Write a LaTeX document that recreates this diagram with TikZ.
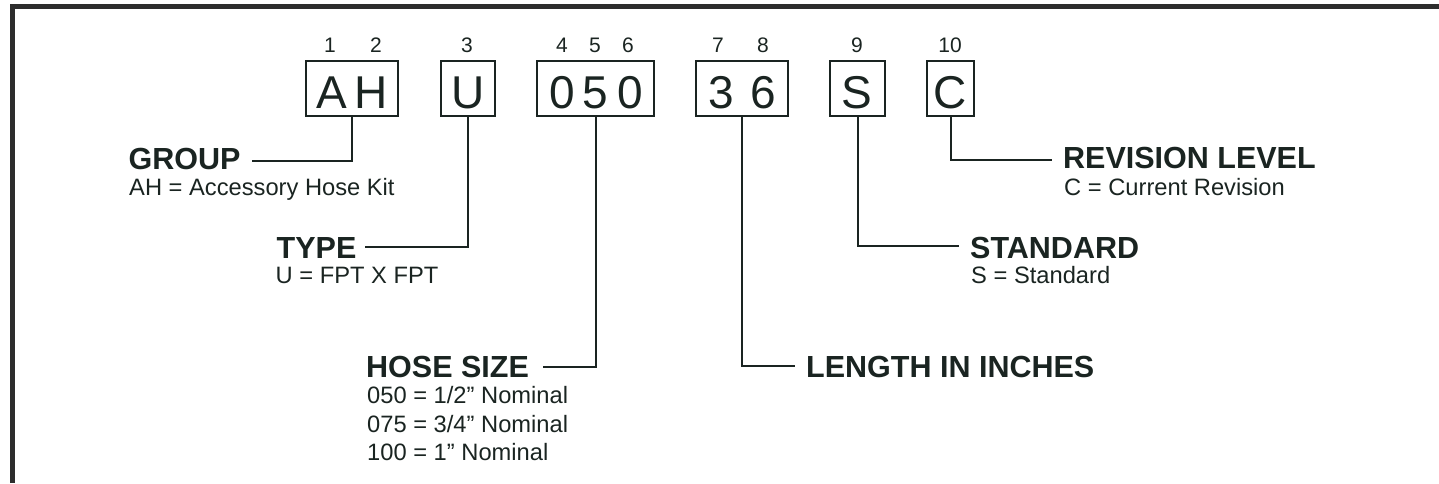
\documentclass[tikz,border=0pt]{standalone}
\usepackage{fontspec}
\setmainfont{Liberation Sans}
\definecolor{ink}{RGB}{26,36,33}
\definecolor{framecol}{RGB}{45,45,45}
\begin{document}
\begin{tikzpicture}[x=1pt,y=-1pt,
  digitbox/.style={draw=ink, line width=2pt, inner sep=0pt, minimum height=55pt},
  chr/.style={anchor=base, inner sep=0pt, text=ink, font=\fontsize{46}{46}\selectfont},
  posnum/.style={anchor=base, inner sep=0pt, text=ink, font=\fontsize{21}{21}\selectfont},
  ttl/.style={anchor=base west, inner sep=0pt, text=ink, font=\fontsize{30.5}{30.5}\selectfont\bfseries},
  sub/.style={anchor=base west, inner sep=0pt, text=ink, font=\fontsize{23.7}{23.7}\selectfont},
  conn/.style={draw=ink, line width=2pt}]
\useasboundingbox (0,0) rectangle (1439,483);
% frame (top and left edges)
\draw[framecol, line width=5pt] (12.5,483) -- (12.5,6.5) -- (1439,6.5);

% boxes
\node[digitbox, minimum width=92pt] (bAH) at (352,88.5) {};
\node[digitbox, minimum width=54pt] (bU) at (468,88.5) {};
\node[digitbox, minimum width=117pt] (bSize) at (595.5,88.5) {};
\node[digitbox, minimum width=92pt] (bLen) at (742,88.5) {};
\node[digitbox, minimum width=55pt] (bS) at (857.5,88.5) {};
\node[digitbox, minimum width=47pt] (bC) at (950.5,88.5) {};

% characters in boxes
\node[chr] (cA) at (332,108) {A};
\node[chr] (cH) at (371,108) {H};
\node[chr] (cU) at (468,108) {U};
\node[chr] (c4) at (562,108) {0};
\node[chr] (c5) at (595,108) {5};
\node[chr] (c6) at (630,108) {0};
\node[chr] (c7) at (721,108) {3};
\node[chr] (c8) at (763,108) {6};
\node[chr] (cS) at (857,108) {S};
\node[chr] (cC) at (950,108) {C};

% position numbers
\node[posnum] (p1) at (330,52) {1};
\node[posnum] (p2) at (376,52) {2};
\node[posnum] (p3) at (467,52) {3};
\node[posnum] (p4) at (562,52) {4};
\node[posnum] (p5) at (595,52) {5};
\node[posnum] (p6) at (628,52) {6};
\node[posnum] (p7) at (718,52) {7};
\node[posnum] (p8) at (763,52) {8};
\node[posnum] (p9) at (857,52) {9};
\node[posnum] (p10) at (950,52) {10};

% labels
\node[ttl] (tGroup) at (128.5,169) {GROUP};
\node[sub] (sGroup) at (129,195) {AH = Accessory Hose Kit};
\node[ttl] (tType) at (276.5,258) {TYPE};
\node[sub] (sType) at (275.5,283) {U = FPT X FPT};
\node[ttl] (tSize) at (366,377) {HOSE SIZE};
\node[sub] (sSize1) at (367,403) {050 = 1/2” Nominal};
\node[sub] (sSize2) at (367,432) {075 = 3/4” Nominal};
\node[sub] (sSize3) at (367,460) {100 = 1” Nominal};
\node[ttl] (tLen) at (806,377) {LENGTH IN INCHES};
\node[ttl] (tStd) at (970,258) {STANDARD};
\node[sub] (sStd) at (971,283) {S = Standard};
\node[ttl] (tRev) at (1063,168) {REVISION LEVEL};
\node[sub] (sRev) at (1064,195) {C = Current Revision};

% connector ends
\coordinate (eGroup) at (252,161);
\coordinate (eType) at (365,247);
\coordinate (eSize) at (543,367);
\coordinate (eLen) at (795,366);
\coordinate (eStd) at (959,246);
\coordinate (eRev) at (1052,160);

\draw[conn] (bAH.south) |- (eGroup);
\draw[conn] (bU.south) |- (eType);
\draw[conn] (bSize.south) |- (eSize);
\draw[conn] (bLen.south) |- (eLen);
\draw[conn] (bS.south) |- (eStd);
\draw[conn] (bC.south) |- (eRev);
\end{tikzpicture}
\end{document}
